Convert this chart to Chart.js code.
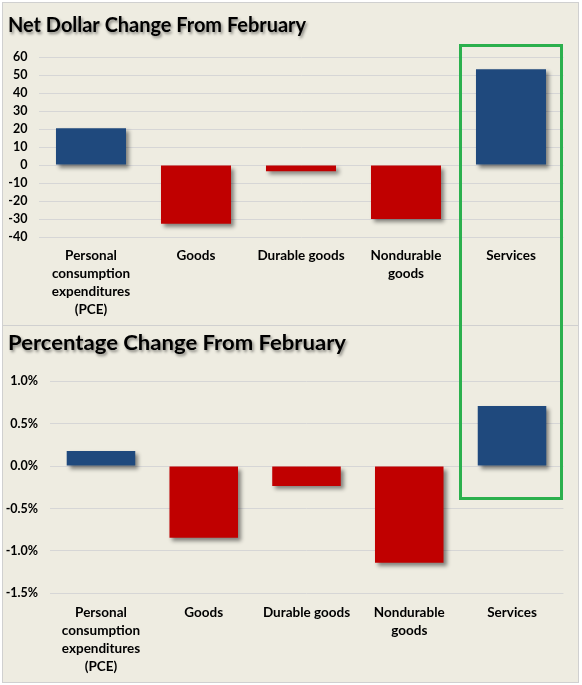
<!DOCTYPE html>
<html><head><meta charset="utf-8">
<script src="https://cdn.jsdelivr.net/npm/chart.js@4"></script>
<style>
html,body{margin:0;padding:0;background:#fff;width:582px;height:685px;overflow:hidden;}
#sheet{position:absolute;left:2px;top:2px;width:577px;height:681px;background:#D0D0D0;}
.panel{position:absolute;background:#EEECE1;}
#p1{left:3px;top:3px;width:575px;height:322px;}
#p2{left:3px;top:326px;width:575px;height:356px;}
canvas{display:block;}
#box{position:absolute;border:3px solid #2BB04D;box-sizing:border-box;pointer-events:none;}
</style></head>
<body>
<div id="sheet"></div>
<div class="panel" id="p1"><canvas id="c1" width="575" height="322"></canvas></div>
<div class="panel" id="p2"><canvas id="c2" width="575" height="356"></canvas></div>
<div id="box"></div>
<script>
// ---- data ----
const categories = [
  ['Personal','consumption','expenditures','(PCE)'],
  'Goods',
  'Durable goods',
  ['Nondurable','goods'],
  'Services'
];
const dollarChange = [20.4, -32.6, -3.5, -30.0, 53.2];
const percentChange = [0.178, -0.845, -0.235, -1.14, 0.709];
const dollarTicks = {min: -40, max: 60, step: 10};
const percentTicks = {min: -1.5, max: 1.0, step: 0.5};
const title1 = 'Net Dollar Change From February';
const title2 = 'Percentage Change From February';

// ---- styling ----
const BLUE = '#1F497D', RED = '#C00000', GRID = '#D6D6D6';
const FONT = 'Lato, "Open Sans", "Liberation Sans", sans-serif';

const shadowPlugin = {
  id: 'barShadow',
  beforeDatasetsDraw(c) {
    const ctx = c.ctx; ctx.save();
    ctx.shadowColor = 'rgba(0,0,0,0.45)';
    ctx.shadowBlur = 4; ctx.shadowOffsetX = 3; ctx.shadowOffsetY = 3;
  },
  afterDatasetsDraw(c) { c.ctx.restore(); }
};

const titlePlugin = {
  id: 'sheetTitle',
  beforeDraw(c, args, o) {
    const ctx = c.ctx; ctx.save();
    ctx.font = 'bold ' + o.size + 'px ' + FONT;
    const w = ctx.measureText(o.text).width;
    ctx.translate(o.x, o.y);
    ctx.scale(o.width / w, 1);
    ctx.shadowColor = 'rgba(0,0,0,0.45)';
    ctx.shadowBlur = 3; ctx.shadowOffsetX = 1.5; ctx.shadowOffsetY = 1.5;
    ctx.fillStyle = '#000';
    ctx.textBaseline = 'alphabetic';
    ctx.fillText(o.text, 0, 0);
    ctx.restore();
  }
};

function makeChart(id, values, tk, fmt, geo, title) {
  return new Chart(document.getElementById(id), {
    type: 'bar',
    data: {
      labels: categories,
      datasets: [{
        data: values,
        backgroundColor: values.map(v => v >= 0 ? BLUE : RED),
        borderWidth: 0,
        barPercentage: 0.667,
        categoryPercentage: 1.0
      }]
    },
    options: {
      responsive: false,
      animation: false,
      layout: {padding: {top: geo.top, right: geo.right, left: 0, bottom: 0}},
      plugins: {
        legend: {display: false},
        tooltip: {enabled: false},
        sheetTitle: title
      },
      scales: {
        x: {
          grid: {display: false, drawTicks: false},
          border: {display: false},
          ticks: {color: '#000', font: {family: FONT, weight: 'bold', size: 13.5, lineHeight: 18 / 13.5}, padding: 10, maxRotation: 0, autoSkip: false},
          afterFit(s) { s.height = geo.xh; }
        },
        y: {
          min: tk.min, max: tk.max,
          grid: {color: GRID, lineWidth: 1, drawTicks: false},
          border: {display: false},
          ticks: {stepSize: tk.step, color: '#000', font: {family: FONT, weight: 'bold', size: 12.5}, padding: geo.tp, callback: fmt},
          afterFit(s) { s.width = geo.yw; }
        }
      }
    },
    plugins: [shadowPlugin, titlePlugin]
  });
}

const c1 = makeChart('c1', dollarChange, dollarTicks, v => String(v),
  {top: 54, right: 14.5, xh: 88, yw: 35.5, tp: 11},
  {text: title1, x: 5, y: 29, size: 20.5, width: 298});
const c2 = makeChart('c2', percentChange, percentTicks, v => (Math.round(v * 10) / 10).toFixed(1) + '%',
  {top: 55.3, right: 14.6, xh: 88.7, yw: 46.6, tp: 11.6},
  {text: title2, x: 5, y: 24, size: 20.5, width: 338});

// highlight box around the Services category, derived from scales
(function () {
  const xs = c1.scales.x;
  const idx = categories.length - 1;
  const cx = xs.getPixelForValue(idx);
  const half = (xs.getPixelForValue(1) - xs.getPixelForValue(0)) / 2;
  const top = 3 + c1.scales.y.getPixelForValue(dollarTicks.max) - 13.5;
  const bottom = 326 + c2.scales.y.getPixelForValue(0) + 33;
  const box = document.getElementById('box');
  box.style.left = Math.round(3 + cx - half + 0.5) + 'px';
  box.style.width = Math.round(2 * half - 1) + 'px';
  box.style.top = Math.round(top) + 'px';
  box.style.height = Math.round(bottom - top) + 'px';
})();
</script>
</body></html>
